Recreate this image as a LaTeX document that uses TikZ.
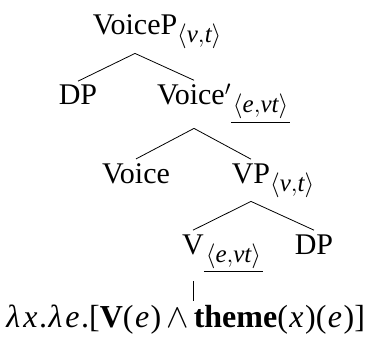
\documentclass[tikz,border=0pt]{standalone}
\usepackage{amsmath}
\usepackage{fontspec}
\setmainfont{Liberation Serif}
\usepackage{tikz}
\usetikzlibrary{positioning}

\newcommand{\vi}[1]{\kern1.5pt\textit{#1}\kern1.5pt}
\newcommand{\typ}[1]{\rlap{\raisebox{-8pt}{\fontsize{25}{25}\selectfont$#1$}}}
\newcommand{\utyp}[1]{\rlap{\raisebox{-8pt}{\fontsize{25}{25}\selectfont$\underline{\kern2pt#1\kern2pt}$}}}

\begin{document}
\begin{tikzpicture}[x=1pt, y=-1pt]

\tikzstyle{knot}=[anchor=base, inner sep=4pt, font=\fontsize{30}{36}\selectfont]
\tikzstyle{kant}=[line width=0.8pt]

\useasboundingbox (0,0) rectangle (370,337);

\node[knot] (voicep) at (135,35) {VoiceP\typ{\langle \textit{v}{,}\textit{t}\rangle}};
\node[knot] (dpa) at (78,105) {DP};
\node[knot] (voicebar) at (194,105) {Voice$'$\utyp{\langle \textit{e}{,}\textit{vt}\rangle}};
\node[knot] (voice) at (136,183) {Voice};
\node[knot] (vp) at (251,183) {VP\typ{\langle \textit{v}{,}\textit{t}\rangle}};
\node[knot] (v) at (193,254) {V\utyp{\langle \textit{e}{,}\textit{vt}\rangle}};
\node[knot] (dpb) at (314,254) {DP};
\node[knot, font=\fontsize{32}{38}\selectfont] (sem) at (185,327)
  {\vi{λ}\vi{x}.\vi{λ}\vi{e}.[\textbf{V}(\vi{e})\kern5pt\scalebox{1.35}{$\wedge$}\kern5pt\textbf{theme}(\vi{x})(\vi{e})]};

\draw[kant] (voicep.south) -- (dpa.north);
\draw[kant] (voicep.south) -- (voicebar.north);
\draw[kant] (voicebar.south) -- (voice.north);
\draw[kant] (voicebar.south) -- (vp.north);
\draw[kant] (vp.south) -- (v.north);
\draw[kant] (vp.south) -- (dpb.north);
\draw[kant, shorten <=4pt, shorten >=-1pt] (v.south) -- (v.south |- sem.north);

\end{tikzpicture}
\end{document}
